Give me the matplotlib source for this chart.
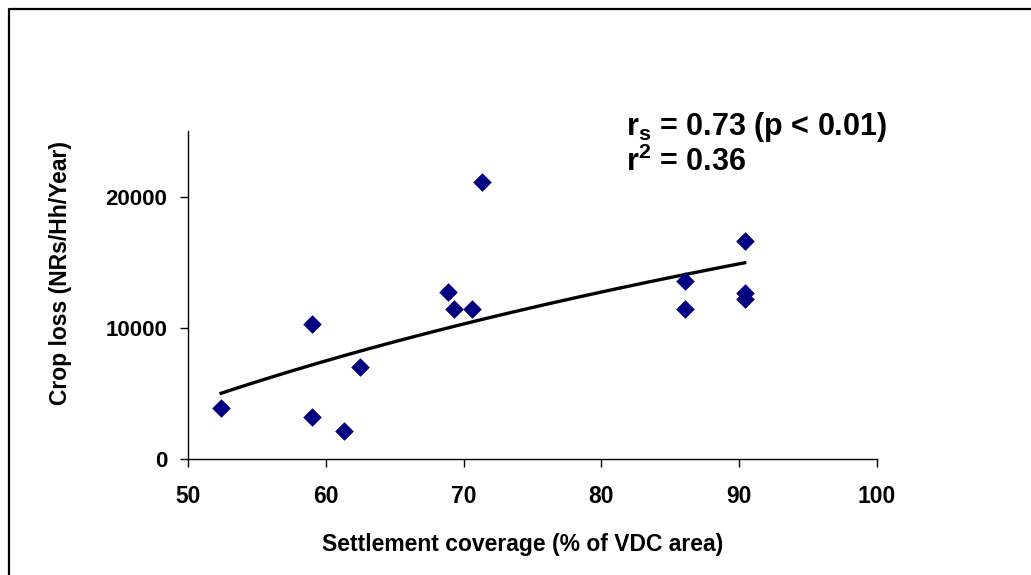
import matplotlib
matplotlib.use("Agg")
import matplotlib.pyplot as plt
from matplotlib.lines import Line2D
import numpy as np

plt.rcParams['font.family'] = ['Liberation Sans', 'DejaVu Sans']
plt.rcParams['font.weight'] = 'bold'

# settlement coverage (% of VDC area) vs crop loss (NRs/Hh/Year)
coverage = [52.4, 59.0, 59.0, 61.3, 62.5, 68.9, 69.3, 70.6, 71.3, 86.1, 86.1, 90.4, 90.4, 90.4]
crop_loss = [3850, 10300, 3200, 2150, 7000, 12700, 11450, 11400, 21150, 13600, 11400, 16600, 12650, 12200]
x_ticks = [50, 60, 70, 80, 90, 100]
y_ticks = [0, 10000, 20000]
stats_text = ["r$_\\mathregular{s}$ = 0.73 (p < 0.01)", "r$^\\mathregular{2}$ = 0.36"]

W, H = 1031, 575
fig = plt.figure(figsize=(W / 100, H / 100), dpi=100)
ax = fig.add_axes([188 / W, 1 - 459 / H, (877 - 188) / W, (459 - 131) / H])

# chart-area border, only left and top edges fall inside the picture
fig.lines.append(Line2D([8.5 / W, 8.5 / W, 1], [0, 1 - 9 / H, 1 - 9 / H],
                        transform=fig.transFigure, color='black', linewidth=1.6))

ax.scatter(coverage, crop_loss, marker='D', s=90, color='#000080', zorder=3, linewidths=0)

# logarithmic trend line (least squares on ln x)
b, a = np.polyfit(np.log(coverage), crop_loss, 1)
xs = np.linspace(min(coverage), max(coverage), 200)
ax.plot(xs, a + b * np.log(xs), color='black', linewidth=2.4, zorder=2)

ax.set_xlim(50, 100)
ax.set_ylim(0, 25000)
ax.set_xticks(x_ticks)
ax.set_yticks(y_ticks)
ax.tick_params(axis='x', direction='out', length=6, width=1, pad=13, labelsize=16.5)
ax.tick_params(axis='y', direction='out', length=6, width=1, pad=9, labelsize=16)
for lab in ax.get_xticklabels() + ax.get_yticklabels():
    lab.set_fontweight('bold')

ax.spines['top'].set_visible(False)
ax.spines['right'].set_visible(False)
ax.spines['left'].set_linewidth(1)
ax.spines['bottom'].set_linewidth(1)

fig.text(523 / W, 1 - 545 / H, 'Settlement coverage (% of VDC area)', ha='center', va='center',
         fontsize=16.5, fontweight='bold')
fig.text(61 / W, 1 - 273 / H, 'Crop loss (NRs/Hh/Year)', ha='center', va='center',
         rotation=90, fontsize=16.5, fontweight='bold')

fig.text(626 / W, 1 - 135 / H, stats_text[0], ha='left', va='baseline', fontsize=22, fontweight='bold')
fig.text(626 / W, 1 - 171 / H, stats_text[1], ha='left', va='baseline', fontsize=22, fontweight='bold')

fig.savefig('out.png', dpi=100)
